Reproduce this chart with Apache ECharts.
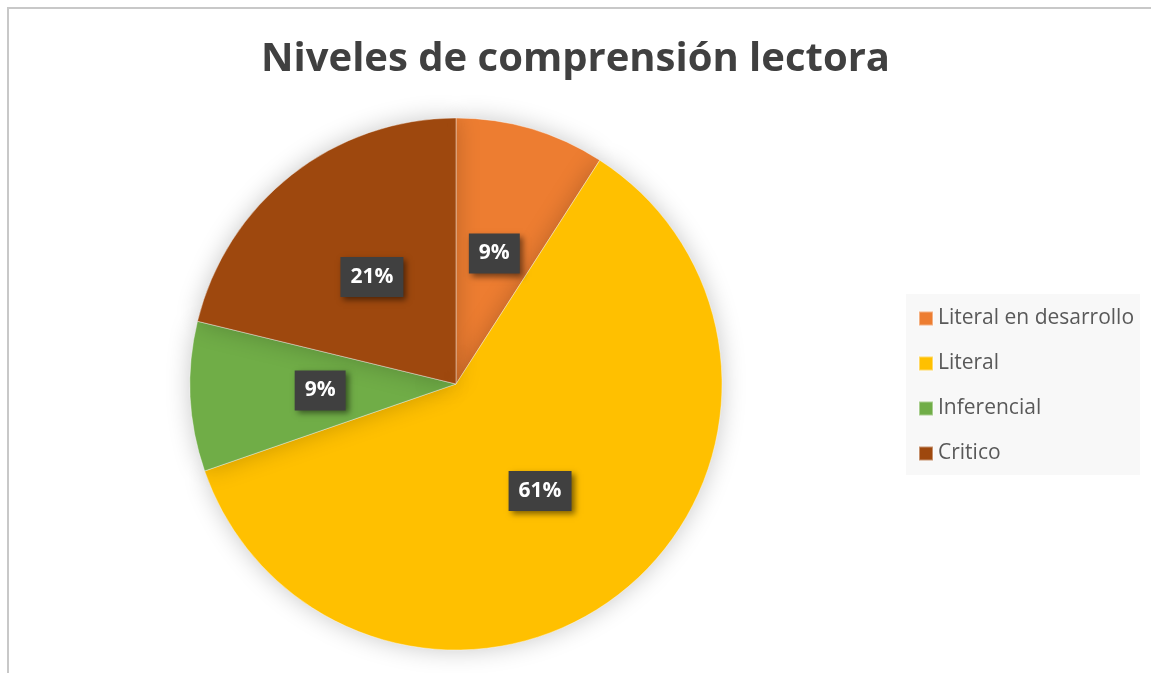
<!DOCTYPE html>
<html>
<head>
<meta charset="utf-8">
<script src="https://cdn.jsdelivr.net/npm/echarts@6/dist/echarts.min.js"></script>
<style>
  html, body { margin: 0; padding: 0; background: #fff; }
  .frame {
    position: absolute; left: 7px; top: 7px; width: 1200px; height: 700px;
    border-left: 2px solid #c8c8c8; border-top: 2px solid #c8c8c8;
  }
  #chart { position: absolute; left: 0; top: 0; width: 1151px; height: 673px; }
</style>
</head>
<body>
<div class="frame"></div>
<div id="chart"></div>
<script>
const titleText = 'Niveles de comprensión lectora'
const categories = ['Literal en desarrollo', 'Literal', 'Inferencial', 'Critico']
// student counts per level (3/33, 20/33, 3/33, 7/33)
const counts = [3, 20, 3, 7]
const colors = ['#ed7d31', '#ffc000', '#70ad47', '#9e480e']

const fontFamily = '"Open Sans", "Noto Sans", sans-serif'

const chart = echarts.init(document.getElementById('chart'))

chart.setOption({
  animation: false,
  title: {
    text: titleText,
    left: 'center',
    top: 35,
    textStyle: { fontFamily, fontSize: 40, fontWeight: 'bold', color: '#404040' },
  },
  legend: {
    orient: 'vertical',
    left: 906,
    top: 294,
    padding: [14, 6, 11, 12],
    backgroundColor: '#f8f8f8',
    icon: 'rect',
    itemWidth: 14,
    itemHeight: 14,
    itemGap: 24,
    textStyle: { fontFamily, fontSize: 21, lineHeight: 21, color: '#595959' },
    data: categories,
  },
  series: [
    {
      type: 'pie',
      center: [456, 384],
      radius: 266,
      startAngle: 90,
      clockwise: true,
      percentPrecision: 0,
      itemStyle: {
        borderColor: 'rgba(255,255,255,0.4)',
        borderWidth: 1,
        shadowBlur: 24,
        shadowColor: 'rgba(0,0,0,0.22)',
      },
      label: {
        show: true,
        position: 'inside',
        formatter: '{d}%',
        fontFamily,
        fontSize: 21,
        fontWeight: 'bold',
        color: '#fff',
        backgroundColor: '#404040',
        padding: [10, 10, 9, 10],
        shadowColor: 'rgba(0,0,0,0.5)',
        shadowBlur: 6,
        shadowOffsetX: 3,
        shadowOffsetY: 3,
      },
      labelLine: { show: false },
      emphasis: { disabled: true },
      data: categories.map((name, i) => ({
        name,
        value: counts[i],
        itemStyle: { color: colors[i] },
      })),
    },
  ],
})
</script>
</body>
</html>
